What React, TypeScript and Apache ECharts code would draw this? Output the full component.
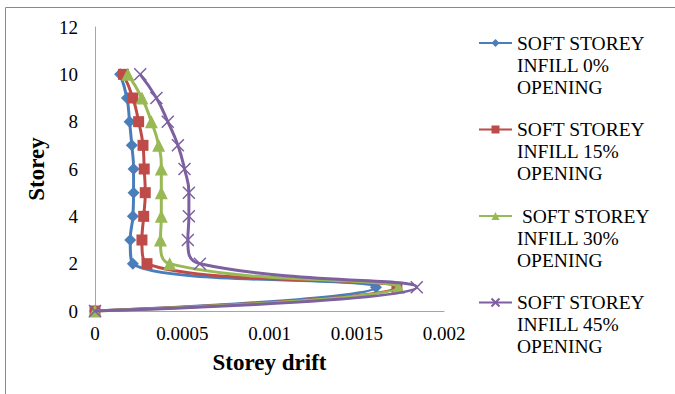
import React, { useEffect, useRef } from "react";
import * as echarts from "echarts";

// Storey levels (y) and the drift of each model at those levels (x)
const storeys = [0, 1, 2, 3, 4, 5, 6, 7, 8, 9, 10];
const drift0 = [0, 0.00161, 0.000217, 0.000202, 0.000217, 0.000221, 0.000221, 0.000211, 0.000198, 0.000183, 0.000144];
const drift15 = [0, 0.00173, 0.000298, 0.000269, 0.000279, 0.000288, 0.000282, 0.000275, 0.00025, 0.000217, 0.000163];
const drift30 = [0, 0.001739, 0.000428, 0.000375, 0.00038, 0.00038, 0.00038, 0.000365, 0.000323, 0.000269, 0.000188];
const drift45 = [0, 0.001844, 0.000601, 0.000532, 0.000538, 0.000538, 0.000513, 0.000475, 0.000417, 0.000352, 0.000259];

const seriesNames = [
  "SOFT STOREY\nINFILL 0%\nOPENING",
  "SOFT STOREY\nINFILL 15%\nOPENING",
  " SOFT STOREY\nINFILL 30%\nOPENING",
  "SOFT STOREY\nINFILL 45%\nOPENING",
];
const xTicks = [0, 0.0005, 0.001, 0.0015, 0.002];

const colors = ["#4A7EBB", "#BE4B48", "#98B954", "#7D60A0"];
const FONT = "Liberation Serif";

const pairs = (xs: number[]) => xs.map((x, i) => [x, storeys[i]]);

export default function App() {
  const ref = useRef<HTMLDivElement>(null);

  useEffect(() => {
    if (!ref.current) return;
    const chart = echarts.init(ref.current, undefined, { renderer: "svg" });

    const symbols = ["diamond", "rect", "triangle", "path://M0,0L10,10M0,10L10,0"];
    const sizes = [12, 11, 13, 12];
    const data = [drift0, drift15, drift30, drift45];

    chart.setOption({
      animation: false,
      backgroundColor: "#ffffff",
      textStyle: { fontFamily: FONT },
      graphic: [
        {
          type: "rect",
          shape: { x: 5.5, y: 7.5, width: 700, height: 400 },
          style: { fill: "none", stroke: "#8a8a8a", lineWidth: 1 },
          silent: true,
          z: -1,
        },
      ],
      grid: { left: 95, right: 231, top: 27, bottom: 83, containLabel: false },
      xAxis: {
        type: "value",
        min: 0,
        max: 0.002,
        interval: 0.0005,
        name: "Storey drift",
        nameLocation: "middle",
        nameGap: 40,
        nameTextStyle: { fontFamily: FONT, fontSize: 23, fontWeight: "bold", color: "#000" },
        axisLine: { show: true, lineStyle: { color: "#a6a6a6", width: 1 } },
        axisTick: { show: false },
        splitLine: { show: false },
        axisLabel: {
          fontFamily: FONT,
          fontSize: 19,
          color: "#000",
          margin: 13,
          formatter: (v: number) => {
            const t = xTicks.find((k) => Math.abs(k - v) < 1e-9);
            return t === undefined ? "" : String(t);
          },
        },
      },
      yAxis: {
        type: "value",
        min: 0,
        max: 12,
        interval: 2,
        name: "Storey",
        nameLocation: "middle",
        nameGap: 38,
        nameTextStyle: { fontFamily: FONT, fontSize: 23, fontWeight: "bold", color: "#000" },
        axisLine: { show: true, lineStyle: { color: "#a6a6a6", width: 1 } },
        axisTick: { show: false },
        splitLine: { show: false },
        axisLabel: { fontFamily: FONT, fontSize: 19, color: "#000", margin: 17 },
      },
      legend: {
        orient: "vertical",
        left: 478,
        top: -12,
        padding: 0,
        itemWidth: 33,
        itemHeight: 10,
        itemGap: -23.5,
        // two blank lines above keep the first text line level with the icon
        formatter: (name: string) => "\n\n" + name,
        textStyle: {
          fontFamily: FONT,
          fontSize: 19.5,
          lineHeight: 22,
          color: "#000",
        },
        data: seriesNames,
      },
      series: data.map((d, i) => ({
        name: seriesNames[i],
        type: "line",
        smooth: 0.5,
        data: pairs(d),
        symbol: symbols[i],
        symbolSize: sizes[i],
        lineStyle: { color: colors[i], width: 3 },
        itemStyle:
          i === 3
            ? { color: colors[i], borderColor: colors[i], borderWidth: 1.5 }
            : { color: colors[i], borderWidth: 0 },
        z: 2 + i,
      })),
    });

    return () => chart.dispose();
  }, []);

  return (
    <div
      ref={ref}
      style={{ position: "fixed", left: 0, top: 0, width: 675, height: 394 }}
    />
  );
}
